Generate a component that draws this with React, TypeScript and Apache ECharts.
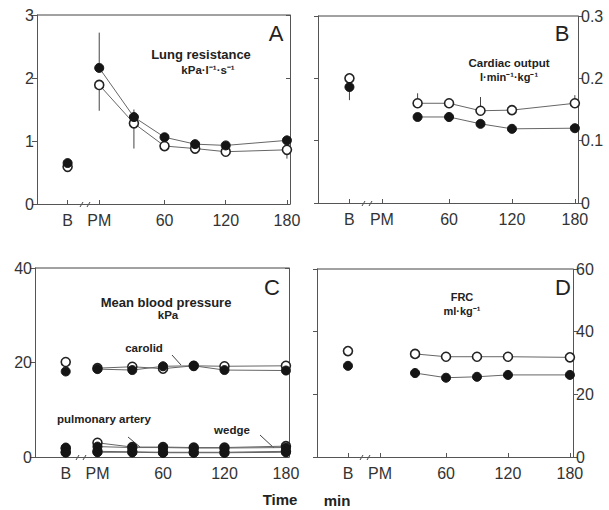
import React, { useEffect, useRef } from "react";
import * as echarts from "echarts";

// Time points (min): B = baseline, PM = post-medication, then 30..180 min
const times = [-35, -4, 30, 60, 90, 120, 180];
const tickValues = [-35, -4, 60, 120, 180];
const tickLabels = ["B", "PM", "60", "120", "180"];

// A: Lung resistance
const lungFilled = [0.65, 2.16, 1.38, 1.06, 0.95, 0.93, 1.01];
const lungOpen = [0.59, 1.89, 1.28, 0.92, 0.88, 0.83, 0.86];
const lungErr = [
  [-4, 2.16, 2.72],
  [-4, 1.48, 1.89],
  [30, 0.88, 1.5],
  [60, 0.86, 1.06],
  [90, 0.8, 0.95],
  [120, 0.76, 0.93],
  [180, 0.72, 0.95],
];

// B: Cardiac output
const coFilled = [0.186, null, 0.138, 0.138, 0.127, 0.119, 0.12];
const coOpen = [0.2, null, 0.16, 0.16, 0.148, 0.149, 0.16];
const coErr = [
  [-35, 0.165, 0.2],
  [30, 0.16, 0.176],
  [90, 0.148, 0.17],
  [180, 0.16, 0.173],
];

// C: Mean blood pressure
const carotidFilled = [18.1, 18.6, 18.4, 19.2, 19.3, 18.4, 18.3];
const carotidOpen = [20.1, 18.8, 19.1, 18.7, 19.3, 19.2, 19.3];
const paFilled = [2.0, 2.2, 2.0, 2.0, 1.9, 1.9, 2.0];
const paOpen = [1.8, 3.0, 2.1, 2.1, 2.0, 2.0, 2.3];
const wedgeFilled = [1.0, 1.0, 1.0, 0.9, 0.9, 0.9, 1.0];
const wedgeOpen = [1.0, 1.2, 1.1, 1.0, 1.0, 1.0, 1.2];

// D: FRC
const frcFilled = [29.1, null, 26.8, 25.3, 25.6, 26.2, 26.2];
const frcOpen = [33.8, null, 32.9, 32.0, 32.0, 32.0, 31.8];

const FONT = "'Liberation Sans', Arial, Helvetica, sans-serif";
const LINE = "#666";

function pairs(vals: (number | null)[], from: number, to: number) {
  const out: number[][] = [];
  for (let i = from; i < to; i++) {
    if (vals[i] !== null && vals[i] !== undefined) out.push([times[i], vals[i] as number]);
  }
  return out;
}

function markerSeries(vals: (number | null)[], idx: number, filled: boolean, z: number) {
  const itemStyle = filled
    ? { color: "#151515", borderColor: "#151515", borderWidth: 1, opacity: 1 }
    : { color: "#ffffff", borderColor: "#222", borderWidth: 1.6, opacity: 1 };
  return [
    {
      type: "line",
      xAxisIndex: idx,
      yAxisIndex: idx * 2,
      data: pairs(vals, 1, times.length),
      symbol: "circle",
      symbolSize: 9,
      showSymbol: true,
      lineStyle: { color: LINE, width: 1 },
      itemStyle,
      z,
      silent: true,
    },
    {
      type: "scatter",
      xAxisIndex: idx,
      yAxisIndex: idx * 2,
      data: pairs(vals, 0, 1),
      symbol: "circle",
      symbolSize: 9,
      itemStyle,
      z,
      silent: true,
    },
  ];
}

function errSeries(data: number[][], idx: number) {
  return {
    type: "custom",
    xAxisIndex: idx,
    yAxisIndex: idx * 2,
    data,
    z: 1,
    silent: true,
    renderItem: (params: any, api: any) => {
      const p1 = api.coord([api.value(0), api.value(1)]);
      const p2 = api.coord([api.value(0), api.value(2)]);
      return {
        type: "line",
        shape: { x1: p1[0], y1: p1[1], x2: p2[0], y2: p2[1] },
        style: { stroke: "#444", lineWidth: 1 },
      };
    },
  };
}

const grids = [
  { left: 37, top: 15, width: 253, height: 189 },
  { left: 318, top: 16, width: 260, height: 187 },
  { left: 35, top: 268, width: 254, height: 189 },
  { left: 317, top: 269, width: 256, height: 188 },
];

function xAxisFor(i: number) {
  return {
    type: "value",
    gridIndex: i,
    min: -65,
    max: 183,
    axisLine: { show: true, onZero: false, lineStyle: { color: "#555", width: 1 } },
    axisTick: { show: true, inside: true, length: 4, customValues: tickValues, lineStyle: { color: "#555" } },
    axisLabel: {
      show: true,
      customValues: tickValues,
      formatter: (v: number) => {
        const k = tickValues.indexOf(v);
        return k >= 0 ? tickLabels[k] : "";
      },
      fontFamily: FONT,
      fontSize: 16,
      color: "#333",
      margin: 8,
    },
    splitLine: { show: false },
  };
}

function yPair(i: number, max: number, interval: number, labelSide: "left" | "right", dec: number) {
  const main = {
    type: "value",
    gridIndex: i,
    position: labelSide,
    min: 0,
    max,
    interval,
    axisLine: { show: true, onZero: false, lineStyle: { color: "#555", width: 1 } },
    axisTick: { show: true, inside: false, length: 5, lineStyle: { color: "#555" } },
    axisLabel: {
      show: true,
      fontFamily: FONT,
      fontSize: 16,
      color: "#333",
      margin: 3,
      formatter: (v: number) => (v === 0 ? "0" : v.toFixed(dec)),
    },
    splitLine: { show: false },
  };
  const other = {
    type: "value",
    gridIndex: i,
    position: labelSide === "left" ? "right" : "left",
    min: 0,
    max,
    interval,
    axisLine: { show: true, onZero: false, lineStyle: { color: "#555", width: 1 } },
    axisTick: { show: true, inside: labelSide === "left", length: 4, lineStyle: { color: "#555" } },
    axisLabel: { show: false },
    splitLine: { show: false },
  };
  return [main, other];
}

function txt(x: number, y: number, text: string, size: number, bold: boolean, align = "center") {
  return {
    type: "text",
    x,
    y,
    style: {
      text,
      fontFamily: FONT,
      fontSize: size,
      fontWeight: bold ? "bold" : "normal",
      fill: "#222",
      align,
      verticalAlign: "middle",
    },
    silent: true,
  };
}

function seg(x1: number, y1: number, x2: number, y2: number) {
  return {
    type: "line",
    shape: { x1, y1, x2, y2 },
    style: { stroke: "#444", lineWidth: 1 },
    silent: true,
  };
}

export default function App() {
  const ref = useRef<HTMLDivElement>(null);
  useEffect(() => {
    document.body.style.margin = "0";
    const chart = echarts.init(ref.current!, null, { renderer: "svg" });
    const option: any = {
      animation: false,
      backgroundColor: "#ffffff",
      grid: grids.map((g) => ({ ...g, show: false })),
      xAxis: [0, 1, 2, 3].map(xAxisFor),
      yAxis: [
        ...yPair(0, 3, 1, "left", 0),
        ...yPair(1, 0.3, 0.1, "right", 1),
        ...yPair(2, 40, 20, "left", 0),
        ...yPair(3, 60, 20, "right", 0),
      ],
      series: [
        errSeries(lungErr, 0),
        ...markerSeries(lungOpen, 0, false, 3),
        ...markerSeries(lungFilled, 0, true, 4),
        errSeries(coErr, 1),
        ...markerSeries(coOpen, 1, false, 3),
        ...markerSeries(coFilled, 1, true, 4),
        ...markerSeries(carotidOpen, 2, false, 3),
        ...markerSeries(carotidFilled, 2, true, 4),
        ...markerSeries(paOpen, 2, false, 3),
        ...markerSeries(paFilled, 2, true, 4),
        ...markerSeries(wedgeOpen, 2, false, 3),
        ...markerSeries(wedgeFilled, 2, true, 4),
        ...markerSeries(frcOpen, 3, false, 3),
        ...markerSeries(frcFilled, 3, true, 4),
      ],
      graphic: [
        // top border lines of each panel
        seg(37, 15, 290, 15),
        seg(318, 16, 578, 16),
        seg(35, 268, 289, 268),
        seg(317, 269, 573, 269),
        // panel A
        txt(276, 33, "A", 22, false),
        txt(201, 54, "Lung resistance", 13, true),
        txt(208, 70, "kPa·l⁻¹·s⁻¹", 11.5, true),
        // panel B
        txt(562, 33, "B", 22, false),
        txt(509, 63, "Cardiac output", 11.5, true),
        txt(509, 77, "l·min⁻¹·kg⁻¹", 11, true),
        // panel C
        txt(272, 287, "C", 22, false),
        txt(166, 302, "Mean blood pressure", 13, true),
        txt(168, 315, "kPa", 11.5, true),
        txt(144, 348, "carolid", 11.5, true),
        seg(172, 355, 181, 365),
        txt(104, 419, "pulmonary artery", 11.5, true),
        seg(128, 437, 140, 447),
        txt(232, 430, "wedge", 11.5, true),
        seg(260, 435, 274, 448),
        // panel D
        txt(563, 287, "D", 22, false),
        txt(462, 297, "FRC", 11, true),
        txt(462, 311, "ml·kg⁻¹", 11, true),
        // axis break marks
        seg(80, 207, 83, 202),
        seg(87, 207, 90, 202),
        seg(362, 206, 365, 201),
        seg(369, 206, 372, 201),
        seg(76, 460, 79, 455),
        seg(83, 460, 86, 455),
        seg(360, 460, 363, 455),
        seg(367, 460, 370, 455),
        // axis title
        txt(280, 499, "Time", 15, true),
        txt(337, 500, "min", 15, true),
      ],
    };
    chart.setOption(option);
    return () => chart.dispose();
  }, []);
  return <div ref={ref} style={{ width: 609, height: 510 }} />;
}
